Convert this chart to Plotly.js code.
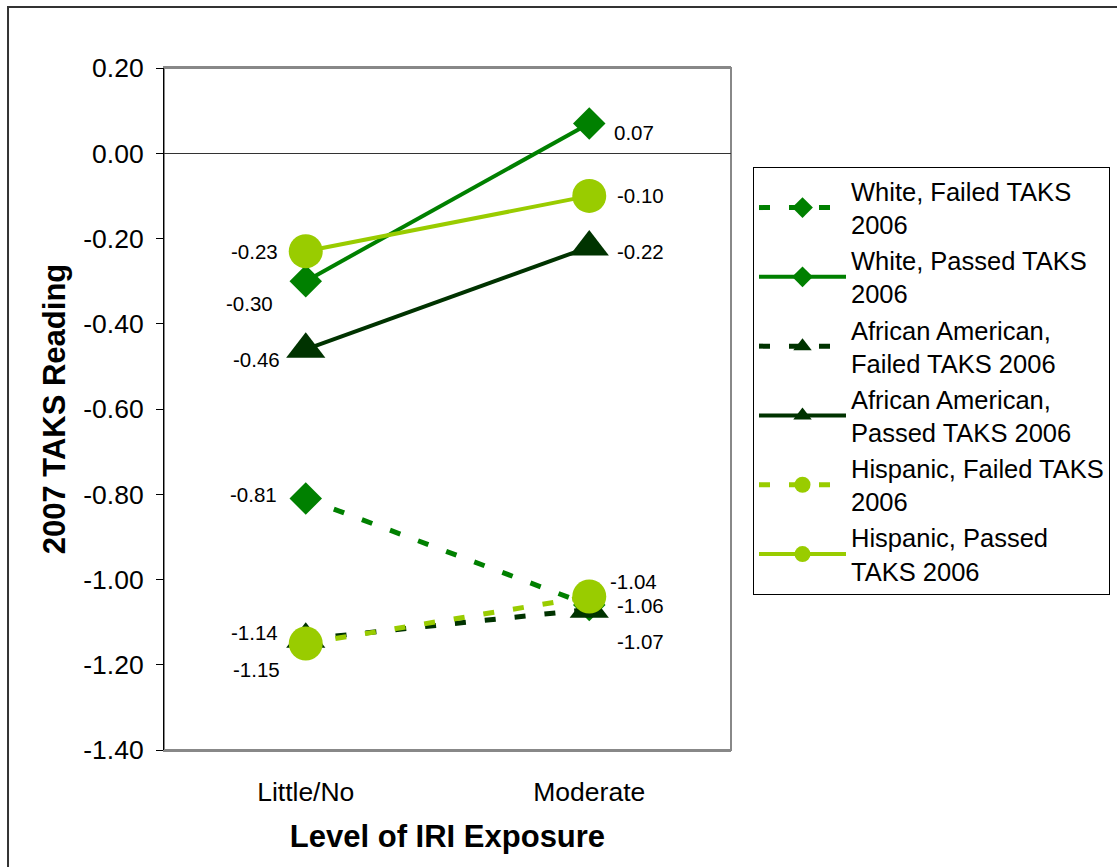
<!DOCTYPE html>
<html>
<head>
<meta charset="utf-8">
<script src="https://cdn.plot.ly/plotly-3.0.1.min.js"></script>
<style>
  html, body { margin: 0; padding: 0; background: #ffffff; }
  #chart { width: 1117px; height: 867px; }
</style>
</head>
<body>
<div id="chart"></div>
<script>
// ---------------- data ----------------
const categories = ['Little/No', 'Moderate'];

const seriesNames = [
  'White, Failed TAKS<br>2006',
  'White, Passed TAKS<br>2006',
  'African American,<br>Failed TAKS 2006',
  'African American,<br>Passed TAKS 2006',
  'Hispanic, Failed TAKS<br>2006',
  'Hispanic, Passed<br>TAKS 2006'
];

const whiteFailed    = [-0.81, -1.06];
const whitePassed    = [-0.30,  0.07];
const aaFailed       = [-1.14, -1.07];
const aaPassed       = [-0.46, -0.22];
const hispanicFailed = [-1.15, -1.04];
const hispanicPassed = [-0.23, -0.10];

const yTickVals   = [0.20, 0.00, -0.20, -0.40, -0.60, -0.80, -1.00, -1.20, -1.40];
const yTickLabels = ['0.20', '0.00', '-0.20', '-0.40', '-0.60', '-0.80', '-1.00', '-1.20', '-1.40'];

// ---------------- styles ----------------
const FONT = 'Arial, "Liberation Sans", sans-serif';
const GREEN = '#008000', DARK = '#003300', LIME = '#99CC00';
const DASH = '11px,19px';

const seriesValues = [whiteFailed, whitePassed, aaFailed, aaPassed, hispanicFailed, hispanicPassed];
const seriesStyle = [
  {color: GREEN, dash: DASH,    width: 5, symbol: 'diamond',     size: 25},
  {color: GREEN, dash: 'solid', width: 4, symbol: 'diamond',     size: 25},
  {color: DARK,  dash: DASH,    width: 5, symbol: 'triangle-up', size: 34},
  {color: DARK,  dash: 'solid', width: 4, symbol: 'triangle-up', size: 34},
  {color: LIME,  dash: DASH,    width: 5, symbol: 'circle',      size: 34},
  {color: LIME,  dash: 'solid', width: 4, symbol: 'circle',      size: 34}
];
// label placement per series per category: [xanchor, xshift, yshift]
const labelPlace = [
  [['right', -27,   4], ['left', 26,   0]],
  [['right', -31, -22], ['left', 23,  -9]],
  [['right', -26,   7], ['left', 26, -32]],
  [['right', -24, -10], ['left', 26,  -4]],
  [['right', -24, -26], ['left', 19,  15]],
  [['right', -26,   0], ['left', 26,   0]]
];

const traces = seriesValues.map((vals, i) => ({
  type: 'scatter',
  mode: 'lines+markers',
  name: seriesNames[i],
  x: categories,
  y: vals,
  line: {color: seriesStyle[i].color, width: seriesStyle[i].width, dash: seriesStyle[i].dash},
  marker: {color: seriesStyle[i].color, symbol: seriesStyle[i].symbol, size: seriesStyle[i].size, line: {width: 0}},
  hoverinfo: 'x+y'
}));

const annotations = [];
seriesValues.forEach((vals, i) => {
  vals.forEach((v, j) => {
    const p = labelPlace[i][j];
    annotations.push({
      x: categories[j], y: v, xref: 'x', yref: 'y',
      text: v.toFixed(2), showarrow: false,
      xanchor: p[0], yanchor: 'middle', xshift: p[1], yshift: p[2],
      font: {family: FONT, size: 20.5, color: '#000000'}
    });
  });
});

const layout = {
  width: 1117, height: 867,
  margin: {l: 164, r: 386, t: 68, b: 117, autoexpand: false},
  paper_bgcolor: '#ffffff', plot_bgcolor: '#ffffff',
  font: {family: FONT, color: '#000000'},
  showlegend: true,
  legend: {
    x: 1.0388, xanchor: 'left', y: 0.855, yanchor: 'top',
    bgcolor: '#ffffff', bordercolor: '#000000', borderwidth: 1,
    font: {family: FONT, size: 25.5, color: '#000000'},
    itemwidth: 87, tracegroupgap: 0
  },
  xaxis: {
    type: 'category', range: [-0.5, 1.5],
    showgrid: false, zeroline: false,
    showline: true, linecolor: '#888888', linewidth: 2, mirror: true,
    ticks: '', tickfont: {family: FONT, size: 26.5, color: '#000000'},
    ticklabelstandoff: 17,
    title: {text: '<b>Level of IRI Exposure</b>', font: {family: FONT, size: 31, color: '#000000'}, standoff: 20},
    fixedrange: true
  },
  yaxis: {
    range: [-1.4, 0.2],
    tickvals: yTickVals, ticktext: yTickLabels,
    showgrid: false,
    zeroline: true, zerolinecolor: '#333333', zerolinewidth: 1,
    showline: true, linecolor: '#000000', linewidth: 1, mirror: false,
    ticks: 'outside', ticklen: 7, tickwidth: 1, tickcolor: '#000000',
    tickfont: {family: FONT, size: 26.5, color: '#000000'},
    ticklabelstandoff: 7,
    title: {text: '<b>2007 TAKS Reading</b>', font: {family: FONT, size: 31, color: '#000000'}, standoff: 8},
    fixedrange: true
  },
  shapes: [
    {type: 'rect', xref: 'paper', yref: 'paper', x0: 0, x1: 1, y0: 0, y1: 1,
     line: {color: '#888888', width: 2}, layer: 'below'},
    {type: 'rect', xref: 'paper', yref: 'paper', x0: -0.2751, x1: 2, y0: -1, y1: 1.0894,
     line: {color: '#333333', width: 2}, layer: 'above'}
  ],
  annotations: annotations
};

Plotly.newPlot('chart', traces, layout, {displayModeBar: false, staticPlot: true});
</script>
</body>
</html>
